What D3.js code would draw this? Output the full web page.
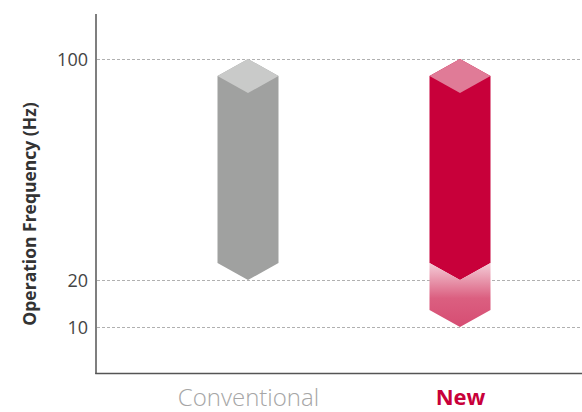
<!DOCTYPE html>
<html><head><meta charset="utf-8">
<script src="https://cdn.jsdelivr.net/npm/d3@7/dist/d3.min.js"></script>
<style>body{margin:0;background:#fff}svg{display:block}</style>
</head><body><div id="chart"></div>
<script>
const categories = ["Conventional", "New"];
const lowValues = [20, 20];
const highValues = [100, 100];
const extLow = [null, 10];
const tickValues = [10, 20, 100];
const yLabel = "Operation Frequency (Hz)";

const W = 582, H = 412;
const svg = d3.select("#chart").append("svg").attr("width", W).attr("height", H);
const defs = svg.append("defs");
const grad = defs.append("linearGradient").attr("id", "ext").attr("x1", 0).attr("y1", 0).attr("x2", 0).attr("y2", 1);
grad.append("stop").attr("offset", "0%").attr("stop-color", "#f4ccd7");
grad.append("stop").attr("offset", "55%").attr("stop-color", "#db5f80");
grad.append("stop").attr("offset", "100%").attr("stop-color", "#d64d73");

const y = d3.scaleLinear().domain([0, 20, 100]).range([374, 280, 59]);
const x = d3.scalePoint().domain(categories).range([142, 566]).padding(0.5);
const barW = 61, cap = 17;

// gridlines
svg.append("g").selectAll("line").data(tickValues).join("line")
  .attr("x1", 97).attr("x2", W).attr("y1", d => y(d) + 0.5).attr("y2", d => y(d) + 0.5)
  .attr("stroke", "#b0b0b0").attr("stroke-width", 1).attr("stroke-dasharray", "3,2");

// y axis
const yAxis = d3.axisLeft(y).tickValues(tickValues).tickSize(0).tickPadding(8);
const gy = svg.append("g").attr("transform", "translate(96,0)").call(yAxis);
gy.select(".domain").remove();
gy.selectAll("text").attr("font-family", "Open Sans, sans-serif").attr("font-size", 18).attr("fill", "#444").attr("dy", "0.34em");
svg.append("line").attr("x1", 96).attr("x2", 96).attr("y1", 14).attr("y2", 374).attr("stroke", "#555").attr("stroke-width", 1.5);

// x axis
const xAxis = d3.axisBottom(x).tickSize(0).tickPadding(16);
const gx = svg.append("g").attr("transform", "translate(0,373)").call(xAxis);
gx.select(".domain").remove();
gx.selectAll("text").attr("font-family", "Open Sans, sans-serif")
  .attr("font-size", (d, i) => i === 1 ? 22 : 24)
  .attr("fill", (d, i) => i === 1 ? "#c8003a" : "#a6a6a6")
  .attr("font-weight", (d, i) => i === 1 ? "bold" : "300");
svg.append("line").attr("x1", 95.25).attr("x2", W).attr("y1", 373.5).attr("y2", 373.5).attr("stroke", "#555").attr("stroke-width", 1.5);

// y label
svg.append("text").attr("transform", "translate(36,214) rotate(-90)").attr("text-anchor", "middle")
  .attr("font-family", "Open Sans, sans-serif").attr("font-weight", "bold").attr("font-size", 17.5).attr("fill", "#333")
  .text(yLabel);

const bodyCol = ["#a0a1a0", "#c8003a"], topCol = ["#c9cac9", "#e07b97"];
categories.forEach((c, i) => {
  const cx = x(c), l = cx - barW / 2, r = cx + barW / 2;
  const yt = y(highValues[i]), yb = y(lowValues[i]);
  // body
  svg.append("path").attr("fill", bodyCol[i])
    .attr("d", `M${l},${yt + cap}L${cx},${yt}L${r},${yt + cap}L${r},${yb - cap}L${cx},${yb}L${l},${yb - cap}Z`);
  // top diamond
  svg.append("path").attr("fill", topCol[i])
    .attr("d", `M${l},${yt + cap}L${cx},${yt}L${r},${yt + cap}L${cx},${yt + 2 * cap}Z`);
  if (extLow[i] != null) {
    const ye = y(extLow[i]);
    svg.append("path").attr("fill", "url(#ext)")
      .attr("d", `M${l},${yb - cap}L${cx},${yb}L${r},${yb - cap}L${r},${ye - cap}L${cx},${ye}L${l},${ye - cap}Z`);
  }
});
</script></body></html>
